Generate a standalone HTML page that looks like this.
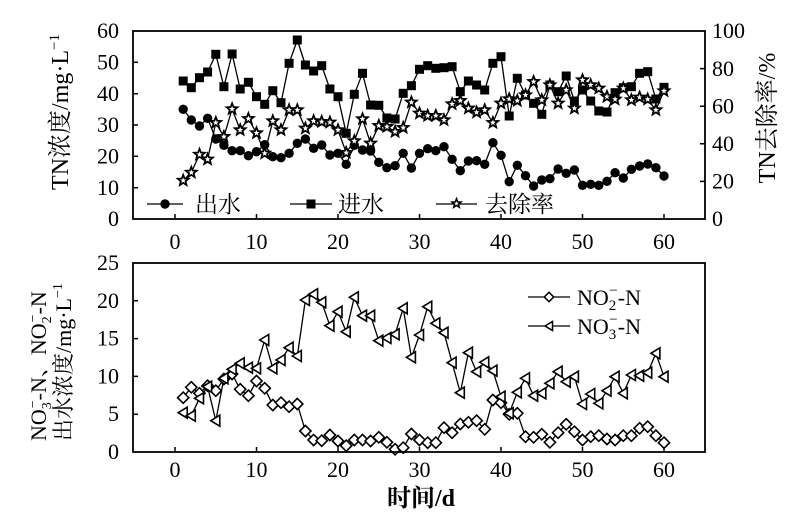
<!DOCTYPE html>
<html><head><meta charset="utf-8"><style>
html,body{margin:0;padding:0;background:#fff;}
svg{display:block;}
text{font-family:"Liberation Serif","Noto Serif CJK SC",serif;fill:#000;}
</style></head><body>
<svg width="800" height="529" viewBox="0 0 800 529" xmlns="http://www.w3.org/2000/svg">
<defs>
<marker id="mc" markerUnits="userSpaceOnUse" markerWidth="12" markerHeight="12" refX="0" refY="0" overflow="visible"><circle cx="0" cy="0" r="4.7" fill="#000"/></marker>
<marker id="ms" markerUnits="userSpaceOnUse" markerWidth="12" markerHeight="12" refX="0" refY="0" overflow="visible"><rect x="-4.5" y="-4.5" width="9" height="9" fill="#000"/></marker>
<marker id="mst" markerUnits="userSpaceOnUse" markerWidth="14" markerHeight="14" refX="0" refY="0" overflow="visible"><polygon points="0,-5.6 1.42,-1.95 5.33,-1.73 2.29,0.75 3.29,4.53 0,2.4 -3.29,4.53 -2.29,0.75 -5.33,-1.73 -1.42,-1.95" fill="#fff" stroke="#000" stroke-width="1.8" stroke-linejoin="miter"/></marker>
<marker id="md" markerUnits="userSpaceOnUse" markerWidth="14" markerHeight="14" refX="0" refY="0" overflow="visible"><polygon points="0,-5.6 5.6,0 0,5.6 -5.6,0" fill="#fff" stroke="#000" stroke-width="1.6"/></marker>
<marker id="mt" markerUnits="userSpaceOnUse" markerWidth="14" markerHeight="14" refX="0" refY="0" overflow="visible"><polygon points="-5,0 4,-5.5 4,5.5" fill="#fff" stroke="#000" stroke-width="1.6" stroke-linejoin="miter"/></marker>
</defs>

<!-- ===== TOP PANEL ===== -->
<g fill="none" stroke="#000" stroke-width="1.3" stroke-linejoin="round">
<polyline marker-start="url(#ms)" marker-mid="url(#ms)" marker-end="url(#ms)" points="183.2,81 191.3,87.7 199.5,77.7 207.6,72 215.8,54.3 223.9,86.7 232.1,54 240.2,89 248.4,82.3 256.5,96.7 264.7,104.3 272.8,90.7 281,102.7 289.1,63.3 297.3,40 305.4,65 313.6,71 321.7,65.7 329.9,89 338,96.7 346.2,133.3 354.3,94.3 362.5,73.3 370.6,105 378.8,105.3 386.9,118 395.1,119 403.2,93.3 411.4,85.7 419.5,69.3 427.7,65.7 435.8,68.3 444,67.7 452.1,66.7 460.3,91.7 468.4,81 476.6,85 484.7,90 492.9,63.3 501,56.7 509.2,116 517.3,78.3 525.5,95 533.6,103.3 541.8,114.3 549.9,85 558.1,91.7 566.2,76 574.4,101 582.5,90 590.7,101 598.8,111 607,112 615.1,92.7 623.3,87.7 631.4,86.7 639.6,73.3 647.7,71.7 655.9,99 664,87.3"/>
<polyline marker-start="url(#mc)" marker-mid="url(#mc)" marker-end="url(#mc)" points="183.2,109.3 191.3,120 199.5,126 207.6,118.3 215.8,139 223.9,145.3 232.1,150.7 240.2,150.7 248.4,155.7 256.5,151.7 264.7,144.7 272.8,156.7 281,157.7 289.1,153.3 297.3,143.3 305.4,139 313.6,148.3 321.7,145 329.9,155 338,153.3 346.2,164.3 354.3,145.3 362.5,150 370.6,151 378.8,162.3 386.9,167.7 395.1,165.7 403.2,153.3 411.4,168 419.5,153.3 427.7,148.7 435.8,150.7 444,146.7 452.1,159.3 460.3,170.7 468.4,161 476.6,160.7 484.7,164.3 492.9,142.7 501,155.3 509.2,181.7 517.3,165.3 525.5,175.7 533.6,186 541.8,180 549.9,178.7 558.1,169 566.2,173.3 574.4,170 582.5,185.3 590.7,184.3 598.8,185.3 607,181.3 615.1,172.7 623.3,178 631.4,169.3 639.6,166 647.7,164 655.9,167.7 664,176"/>
<polyline marker-start="url(#mst)" marker-mid="url(#mst)" marker-end="url(#mst)" points="183.2,180.5 191.3,172.5 199.5,154.5 207.6,159.3 215.8,122.7 223.9,136.7 232.1,109 240.2,130 248.4,118.7 256.5,133 264.7,153.3 272.8,121 281,130 289.1,110 297.3,110 305.4,128.3 313.6,121 321.7,121.7 329.9,122.3 338,130 346.2,152.7 354.3,141 362.5,119 370.6,143.3 378.8,125.7 386.9,126.7 395.1,131.7 403.2,127.7 411.4,102.3 419.5,113.3 427.7,115.7 435.8,115.7 444,120 452.1,104 460.3,100.7 468.4,108.3 476.6,112.3 484.7,110 492.9,122.7 501,103.3 509.2,99 517.3,100.7 525.5,95 533.6,81.7 541.8,100 549.9,85 558.1,103.3 566.2,90 574.4,108.3 582.5,80 590.7,85 598.8,88.3 607,96.7 615.1,99.3 623.3,88.3 631.4,100 639.6,97.3 647.7,99.3 655.9,110 664,91"/>
</g>

<!-- top axes box -->
<rect x="133" y="31" width="572" height="188" fill="none" stroke="#000" stroke-width="1.8"/>
<g stroke="#000" stroke-width="1.5">
<path d="M133,62.3h5M133,93.7h5M133,125h5M133,156.3h5M133,187.7h5"/>
<path d="M705,68.6h-5M705,106.2h-5M705,143.8h-5M705,181.4h-5"/>
<path d="M175,219v-5M256.5,219v-5M338,219v-5M419.5,219v-5M501,219v-5M582.5,219v-5M664,219v-5"/>
</g>
<g font-size="22" text-anchor="end">
<text x="119" y="38">60</text>
<text x="119" y="69.5">50</text>
<text x="119" y="101">40</text>
<text x="119" y="132">30</text>
<text x="119" y="163.5">20</text>
<text x="119" y="195">10</text>
<text x="119" y="226">0</text>
</g>
<g font-size="22" text-anchor="start">
<text x="712" y="38">100</text>
<text x="712" y="76">80</text>
<text x="712" y="113.5">60</text>
<text x="712" y="151">40</text>
<text x="712" y="188.5">20</text>
<text x="712" y="226">0</text>
</g>
<g font-size="22" text-anchor="middle">
<text x="175" y="249">0</text>
<text x="256.5" y="249">10</text>
<text x="338" y="249">20</text>
<text x="419.5" y="249">30</text>
<text x="501" y="249">40</text>
<text x="582.5" y="249">50</text>
<text x="664" y="249">60</text>
</g>

<!-- top legend -->
<g stroke="#000" stroke-width="1.3">
<line x1="147" y1="204" x2="183" y2="204"/>
<line x1="290" y1="204" x2="332" y2="204"/>
<line x1="436" y1="204" x2="477" y2="204"/>
</g>
<circle cx="165" cy="204" r="4.7" fill="#000"/>
<rect x="306.5" y="199.5" width="9" height="9" fill="#000"/>
<polygon transform="translate(456.5,203.5) scale(0.72)" points="0,-6.5 1.65,-2.27 6.18,-2.01 2.66,0.87 3.82,5.26 0,2.8 -3.82,5.26 -2.66,0.87 -6.18,-2.01 -1.65,-2.27" fill="#fff" stroke="#000" stroke-width="2.2"/>
<g font-size="23">
<text x="195" y="212">出水</text>
<text x="338" y="212">进水</text>
<text x="485" y="212">去除率</text>
</g>

<!-- top titles -->
<text font-size="24" text-anchor="middle" transform="translate(68,112) rotate(-90)">TN浓度/mg·L<tspan dy="-9" font-size="15">−1</tspan></text>
<text font-size="24" text-anchor="middle" transform="translate(775,118) rotate(-90)">TN去除率/%</text>

<!-- ===== BOTTOM PANEL ===== -->
<g fill="none" stroke="#000" stroke-width="1.3" stroke-linejoin="round">
<polyline marker-start="url(#md)" marker-mid="url(#md)" marker-end="url(#md)" points="183.2,397.7 191.3,387.3 199.5,393.3 207.6,385.7 215.8,390.7 223.9,379 232.1,374 240.2,389.3 248.4,395.7 256.5,381 264.7,388.3 272.8,405 281,402.7 289.1,406.7 297.3,404 305.4,431 313.6,440 321.7,440.7 329.9,435 338,441 346.2,445.7 354.3,440 362.5,440 370.6,441 378.8,437.3 386.9,442.3 395.1,449.3 403.2,447.7 411.4,434 419.5,440 427.7,442.7 435.8,442.7 444,427.7 452.1,432.7 460.3,424 468.4,422.3 476.6,420.7 484.7,429.3 492.9,400 501,402.7 509.2,414.3 517.3,413.3 525.5,436.7 533.6,437.3 541.8,434.3 549.9,442.3 558.1,432.7 566.2,424.3 574.4,431.7 582.5,440 590.7,436.7 598.8,435.7 607,439 615.1,440 623.3,435.7 631.4,435.7 639.6,428.3 647.7,426.7 655.9,435.7 664,442.7"/>
<polyline marker-start="url(#mt)" marker-mid="url(#mt)" marker-end="url(#mt)" points="183.2,412.7 191.3,415.7 199.5,398.3 207.6,386.7 215.8,420.7 223.9,378.3 232.1,369.3 240.2,363.3 248.4,367.7 256.5,368.3 264.7,340 272.8,368.3 281,360 289.1,347.7 297.3,356 305.4,300 313.6,294.3 321.7,302.3 329.9,325.7 338,311.7 346.2,331.7 354.3,297.3 362.5,315.7 370.6,315.7 378.8,340.7 386.9,338 395.1,334.3 403.2,308.3 411.4,357.3 419.5,335 427.7,306.7 435.8,323.3 444,332.7 452.1,362.7 460.3,392.7 468.4,352.7 476.6,371.7 484.7,362.3 492.9,370.7 501,396.7 509.2,413.3 517.3,392.3 525.5,378.3 533.6,395.7 541.8,393.3 549.9,383.3 558.1,371.7 566.2,381.7 574.4,376.7 582.5,404 590.7,394 598.8,403.3 607,390.7 615.1,376.7 623.3,393.3 631.4,375 639.6,375.7 647.7,372.7 655.9,353.3 664,376.7"/>
</g>

<rect x="133" y="263" width="572" height="189" fill="none" stroke="#000" stroke-width="1.8"/>
<g stroke="#000" stroke-width="1.5">
<path d="M133,300.8h5M133,338.6h5M133,376.4h5M133,414.2h5"/>
<path d="M175,452v-5M256.5,452v-5M338,452v-5M419.5,452v-5M501,452v-5M582.5,452v-5M664,452v-5"/>
</g>
<g font-size="22" text-anchor="end">
<text x="119" y="270">25</text>
<text x="119" y="308">20</text>
<text x="119" y="345.5">15</text>
<text x="119" y="383.5">10</text>
<text x="119" y="421">5</text>
<text x="119" y="459">0</text>
</g>
<g font-size="22" text-anchor="middle">
<text x="175" y="477">0</text>
<text x="256.5" y="477">10</text>
<text x="338" y="477">20</text>
<text x="419.5" y="477">30</text>
<text x="501" y="477">40</text>
<text x="582.5" y="477">50</text>
<text x="664" y="477">60</text>
</g>

<!-- bottom legend -->
<g stroke="#000" stroke-width="1.3">
<line x1="528" y1="297" x2="570" y2="297"/>
<line x1="528" y1="326" x2="570" y2="326"/>
</g>
<polygon points="549,292.3 553.7,297 549,301.7 544.3,297" fill="#fff" stroke="#000" stroke-width="1.5"/>
<polygon points="545,326 552.5,321.5 552.5,330.5" fill="#fff" stroke="#000" stroke-width="1.5"/>
<g font-size="22">
<text x="577" y="305">NO<tspan dy="5" font-size="15">2</tspan><tspan dx="-7" dy="-15" font-size="15">−</tspan><tspan dy="10">-N</tspan></text>
<text x="577" y="334">NO<tspan dy="5" font-size="15">3</tspan><tspan dx="-7" dy="-15" font-size="15">−</tspan><tspan dy="10">-N</tspan></text>
</g>

<!-- bottom titles -->
<text font-size="22" text-anchor="start" transform="translate(46,441) rotate(-90)">NO<tspan dy="5" font-size="14">3</tspan><tspan dx="-6" dy="-14" font-size="14">−</tspan><tspan dy="9">-N、NO</tspan><tspan dy="5" font-size="14">2</tspan><tspan dx="-6" dy="-14" font-size="14">−</tspan><tspan dy="9">-N</tspan></text>
<text font-size="22" text-anchor="start" transform="translate(71,441) rotate(-90)">出水浓度/mg·L<tspan dy="-9" font-size="14">−1</tspan></text>

<text x="421" y="506" font-size="24" font-weight="bold" text-anchor="middle">时间/d</text>
</svg>
</body></html>
